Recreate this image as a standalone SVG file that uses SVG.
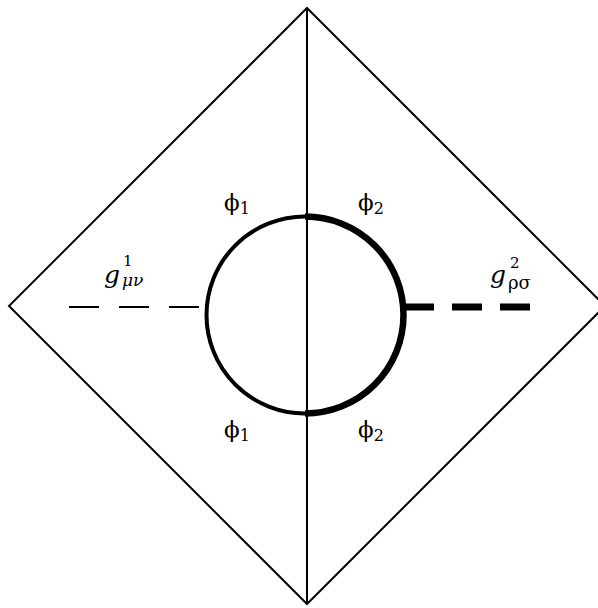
<svg xmlns="http://www.w3.org/2000/svg" width="598" height="608" viewBox="0 0 598 608">
<style>
.ln{fill:none;stroke:#000;stroke-width:2}
text{font-family:'DejaVu Serif',serif;fill:#000}
.it{font-style:italic}
</style>
<rect width="598" height="608" fill="#fff"/>
<g id="frame">
<polygon class="ln" points="307,8 605,306 307,604 9,306"/>
<line class="ln" x1="307" y1="8" x2="307" y2="604"/>
</g>
<g id="connectors">
<line x1="69" y1="307" x2="206" y2="307" stroke="#000" stroke-width="2" stroke-dasharray="30,20"/>
<line x1="404" y1="307" x2="534" y2="307" stroke="#000" stroke-width="7" stroke-dasharray="30,18"/>
</g>
<g id="loop">
<path d="M305,216.5 A98.5,98.5 0 0 0 305,413.5" fill="none" stroke="#000" stroke-width="4"/>
<path d="M305,216.5 A98.5,98.5 0 0 1 305,413.5" fill="none" stroke="#000" stroke-width="6.5"/>
</g>
<g id="phi1-top"><text x="224" y="210" font-size="23">ϕ<tspan font-size="16" dy="4">1</tspan></text></g>
<g id="phi2-top"><text x="358" y="210" font-size="23">ϕ<tspan font-size="16" dy="4">2</tspan></text></g>
<g id="phi1-bottom"><text x="224" y="437" font-size="23">ϕ<tspan font-size="16" dy="4">1</tspan></text></g>
<g id="phi2-bottom"><text x="358" y="437" font-size="23">ϕ<tspan font-size="16" dy="4">2</tspan></text></g>
<g id="g1">
<text><tspan class="it" x="104" y="283" font-size="25">g</tspan><tspan x="123" y="266" font-size="15">1</tspan><tspan class="it" x="122" y="286" font-size="17">μν</tspan></text>
</g>
<g id="g2">
<text><tspan class="it" x="490" y="283" font-size="25">g</tspan><tspan x="510" y="268" font-size="15">2</tspan><tspan x="508" y="289" font-size="18">ρσ</tspan></text>
</g>
</svg>
